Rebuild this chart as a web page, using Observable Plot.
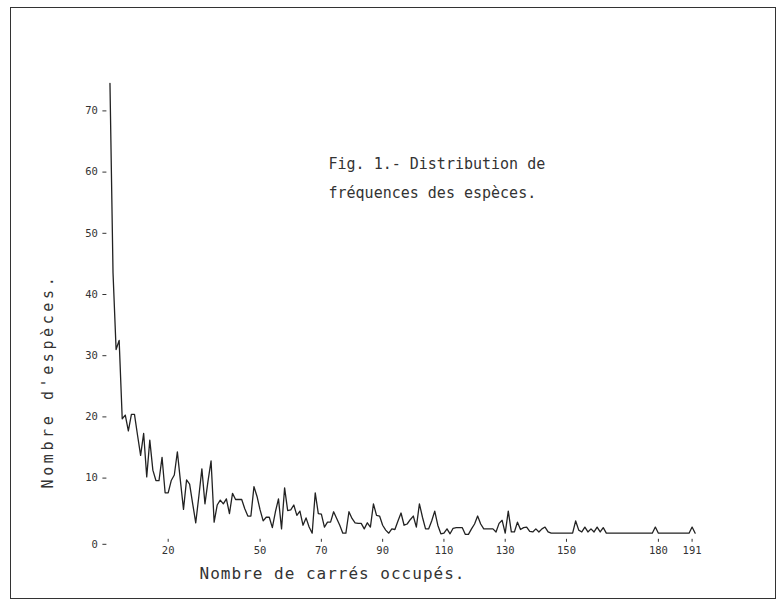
<!DOCTYPE html>
<html><head><meta charset="utf-8">
<script src="https://cdn.jsdelivr.net/npm/d3@7"></script>
<script src="https://cdn.jsdelivr.net/npm/@observablehq/plot@0.6"></script>
<style>
body{margin:0;background:#fff;}
#wrap{position:relative;width:782px;height:601px;overflow:hidden;}
#frame{position:absolute;left:10px;top:7px;width:766px;height:592px;border:1.5px solid #333;box-sizing:border-box;pointer-events:none;}
#wrap svg{position:absolute;left:0;top:0;}
</style></head><body>
<div id="wrap"><div id="frame"></div></div>
<script>
// Nombre de carrés occupés (x)
const carres = [
  1,2,3,4,5,6,7,8,9,10,11,12,13,14,15,16,17,18,19,20,
  21,22,23,24,25,26,27,28,29,30,31,32,33,34,35,36,37,38,39,40,
  41,42,43,44,45,46,47,48,49,50,51,52,53,54,55,56,57,58,59,60,
  61,62,63,64,65,66,67,68,69,70,71,72,73,74,75,76,77,78,79,80,
  81,82,83,84,85,86,87,88,89,90,91,92,93,94,95,96,97,98,99,100,
  101,102,103,104,105,106,107,108,109,110,111,112,113,114,115,116,117,118,119,120,
  121,122,123,124,125,126,127,128,129,130,131,132,133,134,135,136,137,138,139,140,
  141,142,143,144,145,146,147,148,149,150,151,152,153,154,155,156,157,158,159,160,
  161,162,163,178,179,180,190,191,192
];
// Nombre d'espèces (y)
const especes = [
  74.5,43.5,31,32.5,19.7,20.3,17.7,20.4,20.4,17,13.7,17.3,10.2,16.2,11.3,9.6,9.6,13.4,7.6,7.6,
  9.6,10.5,14.3,9.5,4.9,9.7,9,5.8,2.7,7,11.5,5.8,9.5,12.8,2.8,5.6,6.4,5.8,6.6,4.2,
  7.5,6.5,6.5,6.5,5,3.8,3.8,8.6,7,4.8,3,3.6,3.6,1.9,4.5,6.6,1.7,8.4,4.7,4.8,
  5.6,3.9,4.6,2.3,3.5,2,1,7.6,4.2,4.1,2,2.8,2.8,4.5,3.4,2.3,1,1,4.5,3.4,
  2.7,2.6,2.6,1.7,2.7,2,5.8,3.9,3.8,2.3,1.5,1,1.7,1.6,3,4.3,2.3,2.5,3.2,3.8,
  2,5.8,3.6,1.7,1.7,3,4.6,2.3,0.9,1,1.7,0.9,1.8,1.9,1.9,1.9,0.8,0.8,1.7,2.5,
  3.8,2.5,1.7,1.7,1.7,1.7,1.2,2.6,3.1,1,4.6,1.2,1.2,2.8,1.6,1.9,2,1.3,1.2,1.7,
  1.2,1.7,2,1.2,1,1,1,1,1,1,1,1,3,1.5,1.2,2,1.2,1.7,1.2,2,
  1.2,1.9,1,1,2,1,1,2,1
];
const xTicks = [20,50,70,90,110,130,150,180,191];
const yTicks = [0,10,20,30,40,50,60,70];
const titre = ["Fig. 1.- Distribution de", "fréquences des espèces."];
const labelX = "Nombre de carrés occupés.";
const labelY = "Nombre d'espèces.";

const data = carres.map((c, i) => ({c, n: especes[i]}));
const ink = "#333";
const mono = "DejaVu Sans Mono";

const chart = Plot.plot({
  width: 782, height: 601,
  marginLeft: 106.4, marginRight: 90.4, marginTop: 110.4, marginBottom: 62.2,
  x: {domain: [0, 191]},
  y: {domain: [0, 70]},
  style: {fontFamily: mono, color: ink, background: "transparent", overflow: "visible"},
  marks: [
    Plot.axisY({ticks: yTicks.filter(d => d > 0), tickSize: 4, tickPadding: 5, label: null, fontSize: 10.5, stroke: ink}),
    Plot.axisY({ticks: [0], tickSize: 4, tickPadding: 5, label: null, fontSize: 10.5, dy: 5, stroke: ink}),
    Plot.axisX({ticks: xTicks, tickSize: 3, tickPadding: 4, label: null, fontSize: 10.5, tickFormat: d => String(d), stroke: ink}),
    Plot.line(data, {x: "c", y: "n", stroke: "#222", strokeWidth: 1.3, strokeLinejoin: "round"}),
    Plot.text([titre[0]], {frameAnchor: "top-left", dx: 221.6, dy: 47.6, textAnchor: "start", fontSize: 15, fontFamily: mono, fill: ink}),
    Plot.text([titre[1]], {frameAnchor: "top-left", dx: 221.6, dy: 76.6, textAnchor: "start", fontSize: 15, fontFamily: mono, fill: ink}),
    Plot.text([labelX], {frameAnchor: "bottom", dx: -67, dy: 40, textAnchor: "middle", fontSize: 16, fontFamily: mono, fill: ink}),
    Plot.text([labelY], {frameAnchor: "left", dx: -58.4, dy: 56, rotate: -90, textAnchor: "middle", fontSize: 15, fontFamily: mono, fill: ink})
  ]
});
d3.select(chart).selectAll("text").each(function() {
  const t = this.textContent;
  if (t === labelY) this.setAttribute("letter-spacing", "3.6");
  else if (t === labelX) this.setAttribute("letter-spacing", "1");
});
document.getElementById("wrap").appendChild(chart);
</script>
</body></html>
